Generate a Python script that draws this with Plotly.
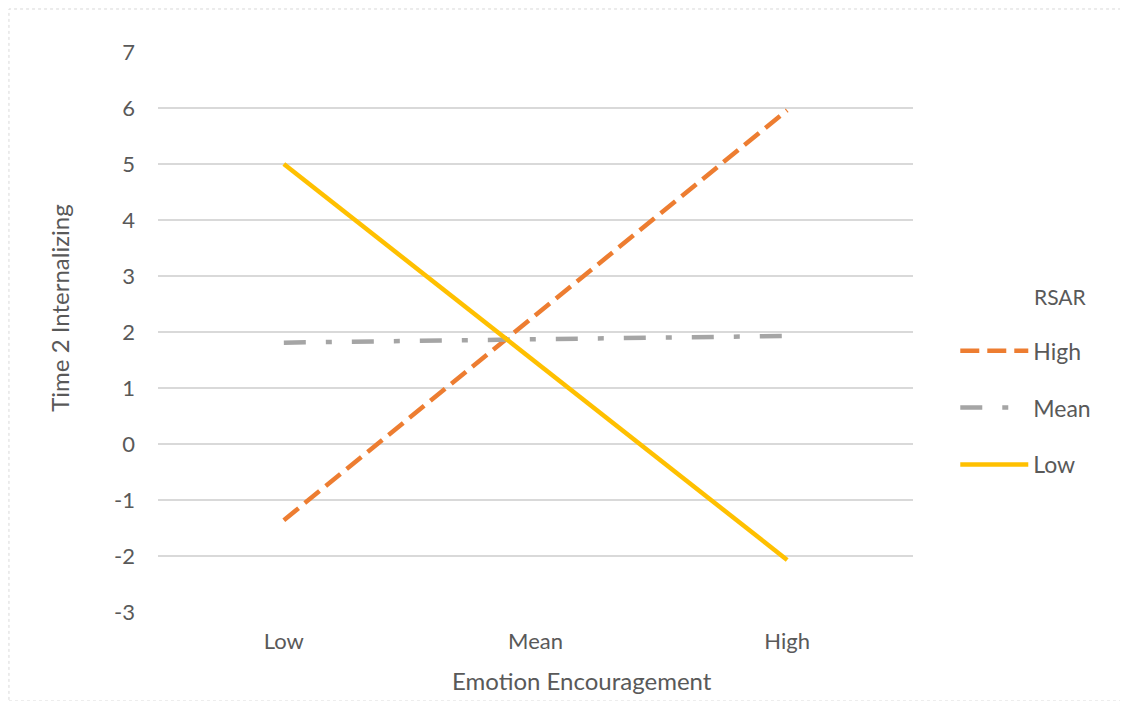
import plotly.graph_objects as go

categories = ["Low", "Mean", "High"]
high_rsar = [-1.36, 2.30, 5.96]
mean_rsar = [1.81, 1.87, 1.93]
low_rsar = [5.00, 1.47, -2.07]
y_ticks = [-3, -2, -1, 0, 1, 2, 3, 4, 5, 6, 7]
y_tick_text = ["-3", "-2", "-1", "0", "1", "2", "3", "4", "5", "6", "7"]

FONT = "Lato"
TXT = "#595959"

fig = go.Figure()
fig.add_trace(go.Scatter(x=categories, y=high_rsar, name="High", mode="lines",
                         legendgroup="a",
                         line=dict(color="#ED7D31", width=4.5, dash="19px,8px")))
fig.add_trace(go.Scatter(x=categories, y=mean_rsar, name="Mean", mode="lines",
                         legendgroup="b",
                         line=dict(color="#A5A5A5", width=4.5, dash="22px,20px,6px,20px")))
fig.add_trace(go.Scatter(x=categories, y=low_rsar, name="Low", mode="lines",
                         legendgroup="c",
                         line=dict(color="#FFC000", width=4.5)))

fig.update_layout(
    width=1128, height=701,
    margin=dict(l=150, r=223, t=44, b=97),
    paper_bgcolor="white", plot_bgcolor="white",
    font=dict(family=FONT, color=TXT, size=22),
    legend=dict(x=1.056, xanchor="left", y=0.505, yanchor="top",
                traceorder="grouped", tracegroupgap=24, itemwidth=68,
                font=dict(size=23, color=TXT, family=FONT)),
    xaxis=dict(range=[-0.5, 2.5], showgrid=False, zeroline=False,
               showline=False, ticks="", ticklabelstandoff=14,
               tickfont=dict(size=22, color=TXT)),
    yaxis=dict(range=[-3, 7], tickvals=y_ticks, ticktext=y_tick_text,
               showgrid=True, gridcolor="#D9D9D9",
               gridwidth=1.5, zeroline=False, showline=False, ticks="",
               ticklabelstandoff=22,
               tickfont=dict(size=22, color=TXT)),
    annotations=[
        dict(text="RSAR", x=1.157, y=0.564, xref="paper", yref="paper",
             xanchor="left", yanchor="middle", showarrow=False,
             font=dict(size=21, color=TXT, family=FONT)),
        dict(text="Emotion Encouragement", x=0.562, y=-0.123, xref="paper", yref="paper",
             xanchor="center", yanchor="middle", showarrow=False,
             font=dict(size=24, color=TXT, family=FONT)),
        dict(text="Time 2 Internalizing", x=-0.13, y=0.543, xref="paper", yref="paper",
             xanchor="center", yanchor="middle", showarrow=False, textangle=-90,
             font=dict(size=24, color=TXT, family=FONT)),
    ],
    shapes=[dict(type="rect", xref="paper", yref="paper",
                 x0=-0.1974, x1=1.2768, y0=-0.159, y1=1.0768,
                 line=dict(color="#D9D9D9", width=1, dash="dot"))],
)

fig.write_html("out.html")
